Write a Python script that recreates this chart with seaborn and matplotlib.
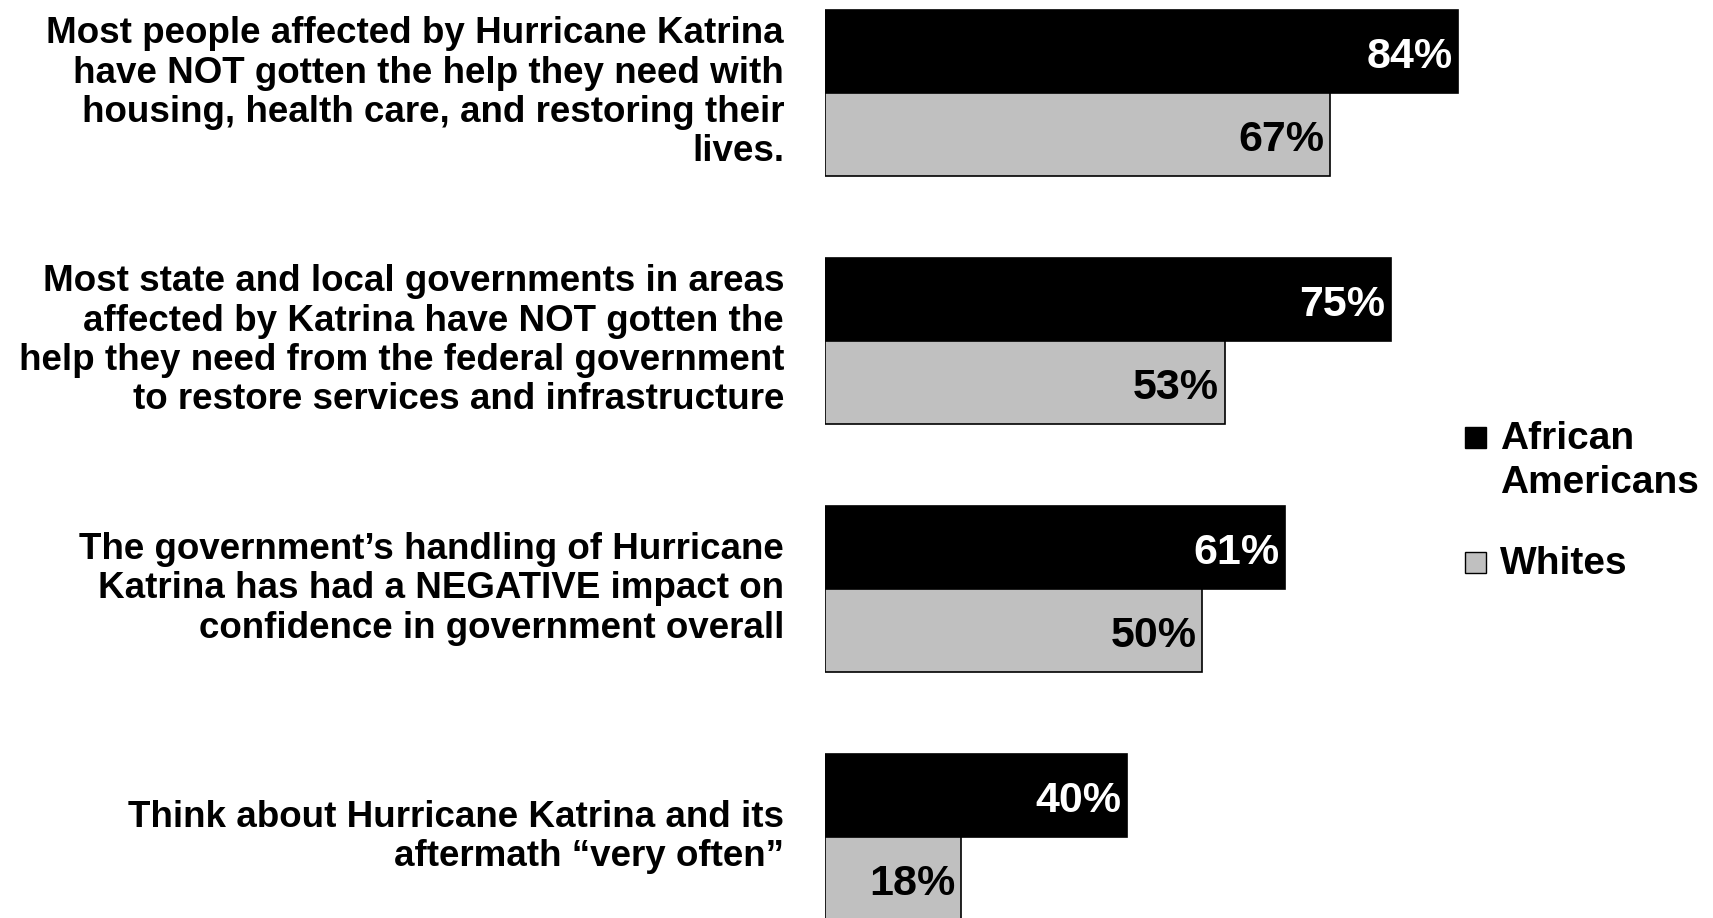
import matplotlib
matplotlib.use("Agg")
import matplotlib.pyplot as plt
import seaborn as sns
import pandas as pd
from matplotlib.patches import Rectangle
from matplotlib.transforms import ScaledTranslation

# Survey statements (one per group of bars)
statements = [
    "Most people affected by Hurricane Katrina\nhave NOT gotten the help they need with\nhousing, health care, and restoring their\nlives.",
    "Most state and local governments in areas\naffected by Katrina have NOT gotten the\nhelp they need from the federal government\nto restore services and infrastructure",
    "The government\u2019s handling of Hurricane\nKatrina has had a NEGATIVE impact on\nconfidence in government overall",
    "Think about Hurricane Katrina and its\naftermath \u201cvery often\u201d",
]
groups = ["African\nAmericans", "Whites"]
african_americans = [84, 75, 61, 40]
whites = [67, 53, 50, 18]
colors = ["#000000", "#c0c0c0"]

df = pd.DataFrame({
    "statement": statements * 2,
    "group": [groups[0]] * len(statements) + [groups[1]] * len(statements),
    "pct": african_americans + whites,
})

sns.set_theme(style="white")
plt.rcParams["font.family"] = ["Liberation Sans", "DejaVu Sans"]
plt.rcParams["font.weight"] = "bold"
plt.rcParams["text.color"] = "black"
plt.rcParams["ytick.color"] = "black"
plt.rcParams["ytick.labelcolor"] = "black"

W, H = 1713, 918
fig = plt.figure(figsize=(W / 100, H / 100), dpi=100)
left_px = 825
ax = fig.add_axes([left_px / W, 0, (W - left_px) / W, 1])

sns.barplot(
    data=df, y="statement", x="pct", hue="group",
    hue_order=groups, order=statements, orient="h",
    palette=colors, width=0.67, gap=0, saturation=1,
    edgecolor="black", linewidth=1.2, legend=False, ax=ax,
)

ax.set_xlim(0, (W - left_px) / 7.54)
ax.set_ylim(3.327, -0.3746)

# Percentage labels inside the bar ends
for container, values, tcolor in zip(ax.containers, [african_americans, whites], ["white", "black"]):
    for rect, v in zip(container, values):
        yc = rect.get_y() + rect.get_height() / 2
        ax.annotate(f"{v}%", xy=(v, yc), xytext=(-4, -4), textcoords="offset points",
                    ha="right", va="center", color=tcolor, fontsize=31,
                    fontweight="bold")

ax.set_xlabel("")
ax.set_ylabel("")
ax.set_xticks([])
ax.set_yticks(range(len(statements)))
ax.set_yticklabels(statements, fontsize=26.5, fontweight="bold", linespacing=1.16,
                   color="black")
ax.tick_params(axis="y", length=0, pad=29.5)
shift = ScaledTranslation(0, 4.5 / 72, fig.dpi_scale_trans)
for lab in ax.get_yticklabels():
    lab.set_transform(lab.get_transform() + shift)
for s in ax.spines.values():
    s.set_visible(False)

# Legend at the right side
legend_items = [(groups[0], colors[0], 437), (groups[1], colors[1], 562)]
sq = 21
for label, col, ypx in legend_items:
    fig.patches.append(Rectangle((1465 / W, 1 - (ypx + sq / 2) / H), sq / W, sq / H,
                                 transform=fig.transFigure, facecolor=col,
                                 edgecolor="black", linewidth=1.0))
    fig.text(1500 / W, 1 - (ypx - 16) / H, label, ha="left", va="top",
             fontsize=28, fontweight="bold", linespacing=1.27, color="black")

fig.savefig("out.png", dpi=100)
